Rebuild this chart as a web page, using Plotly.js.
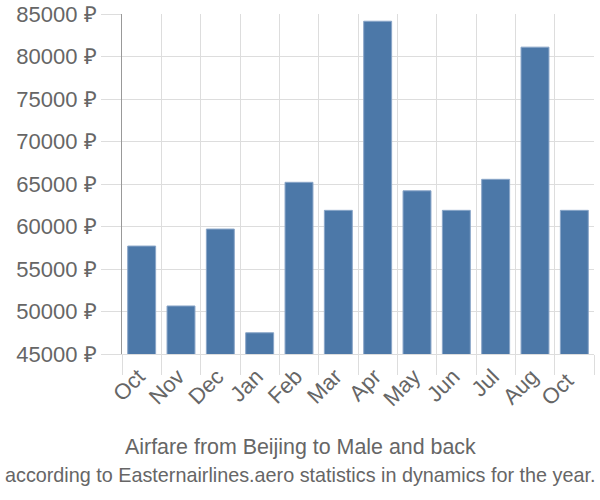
<!DOCTYPE html>
<html>
<head>
<meta charset="utf-8">
<script src="https://cdn.plot.ly/plotly-3.0.1.min.js"></script>
<style>html,body{margin:0;padding:0;background:#fff;}</style>
</head>
<body>
<div id="chart" style="width:600px;height:500px;"></div>
<script>
const months = ["Oct","Nov","Dec","Jan","Feb","Mar","Apr","May","Jun","Jul","Aug","Oct "];
const prices = [57700, 50650, 59700, 47500, 65200, 61900, 84150, 64200, 61900, 65550, 81100, 61900];
const yTicks = [45000, 50000, 55000, 60000, 65000, 70000, 75000, 80000, 85000];
const yTickText = yTicks.map(v => v + " ₽");
const titleText = "Airfare from Beijing to Male and back";
const subtitleText = "according to Easternairlines.aero statistics in dynamics for the year.";

const font = "Liberation Sans, Arial, sans-serif";
const trace = {
  type: "bar",
  x: months,
  y: prices,
  marker: {color: "#4c78a8", line: {color: "#8aa6c8", width: 1}},
  hoverinfo: "x+y"
};
const layout = {
  width: 600, height: 500,
  margin: {l: 122, r: 6, t: 14, b: 146},
  paper_bgcolor: "#fff", plot_bgcolor: "#fff",
  bargap: 0.29,
  showlegend: false,
  font: {family: font, color: "#666"},
  xaxis: {
    type: "category",
    tickson: "boundaries",
    ticks: "outside", ticklen: 20, tickcolor: "#ddd", tickwidth: 1,
    showgrid: true, gridcolor: "#ddd", gridwidth: 1,
    tickangle: -45,
    ticklabelshift: -3,
    ticklabelstandoff: 0,
    tickfont: {size: 22, color: "#666", family: font},
    showline: true, linecolor: "#ddd", linewidth: 1,
    zeroline: false
  },
  yaxis: {
    range: [45000, 85000],
    tickvals: yTicks, ticktext: yTickText,
    ticks: "outside", ticklen: 20, tickcolor: "#ddd", tickwidth: 1,
    showgrid: true, gridcolor: "#ddd", gridwidth: 1,
    tickfont: {size: 22, color: "#666", family: font},
    showline: true, linecolor: "#999", linewidth: 1,
    zeroline: false
  },
  annotations: [
    {text: titleText, xref: "paper", yref: "paper", x: (300 - 122) / 472, xanchor: "center",
     y: -0.274, yanchor: "middle", showarrow: false,
     font: {size: 21.4, color: "#666", family: font}},
    {text: subtitleText, xref: "paper", yref: "paper", x: (300 - 122) / 472, xanchor: "center",
     y: -0.356, yanchor: "middle", showarrow: false,
     font: {size: 19.8, color: "#666", family: font}}
  ]
};
Plotly.newPlot("chart", [trace], layout, {displayModeBar: false, staticPlot: true});
</script>
</body>
</html>
